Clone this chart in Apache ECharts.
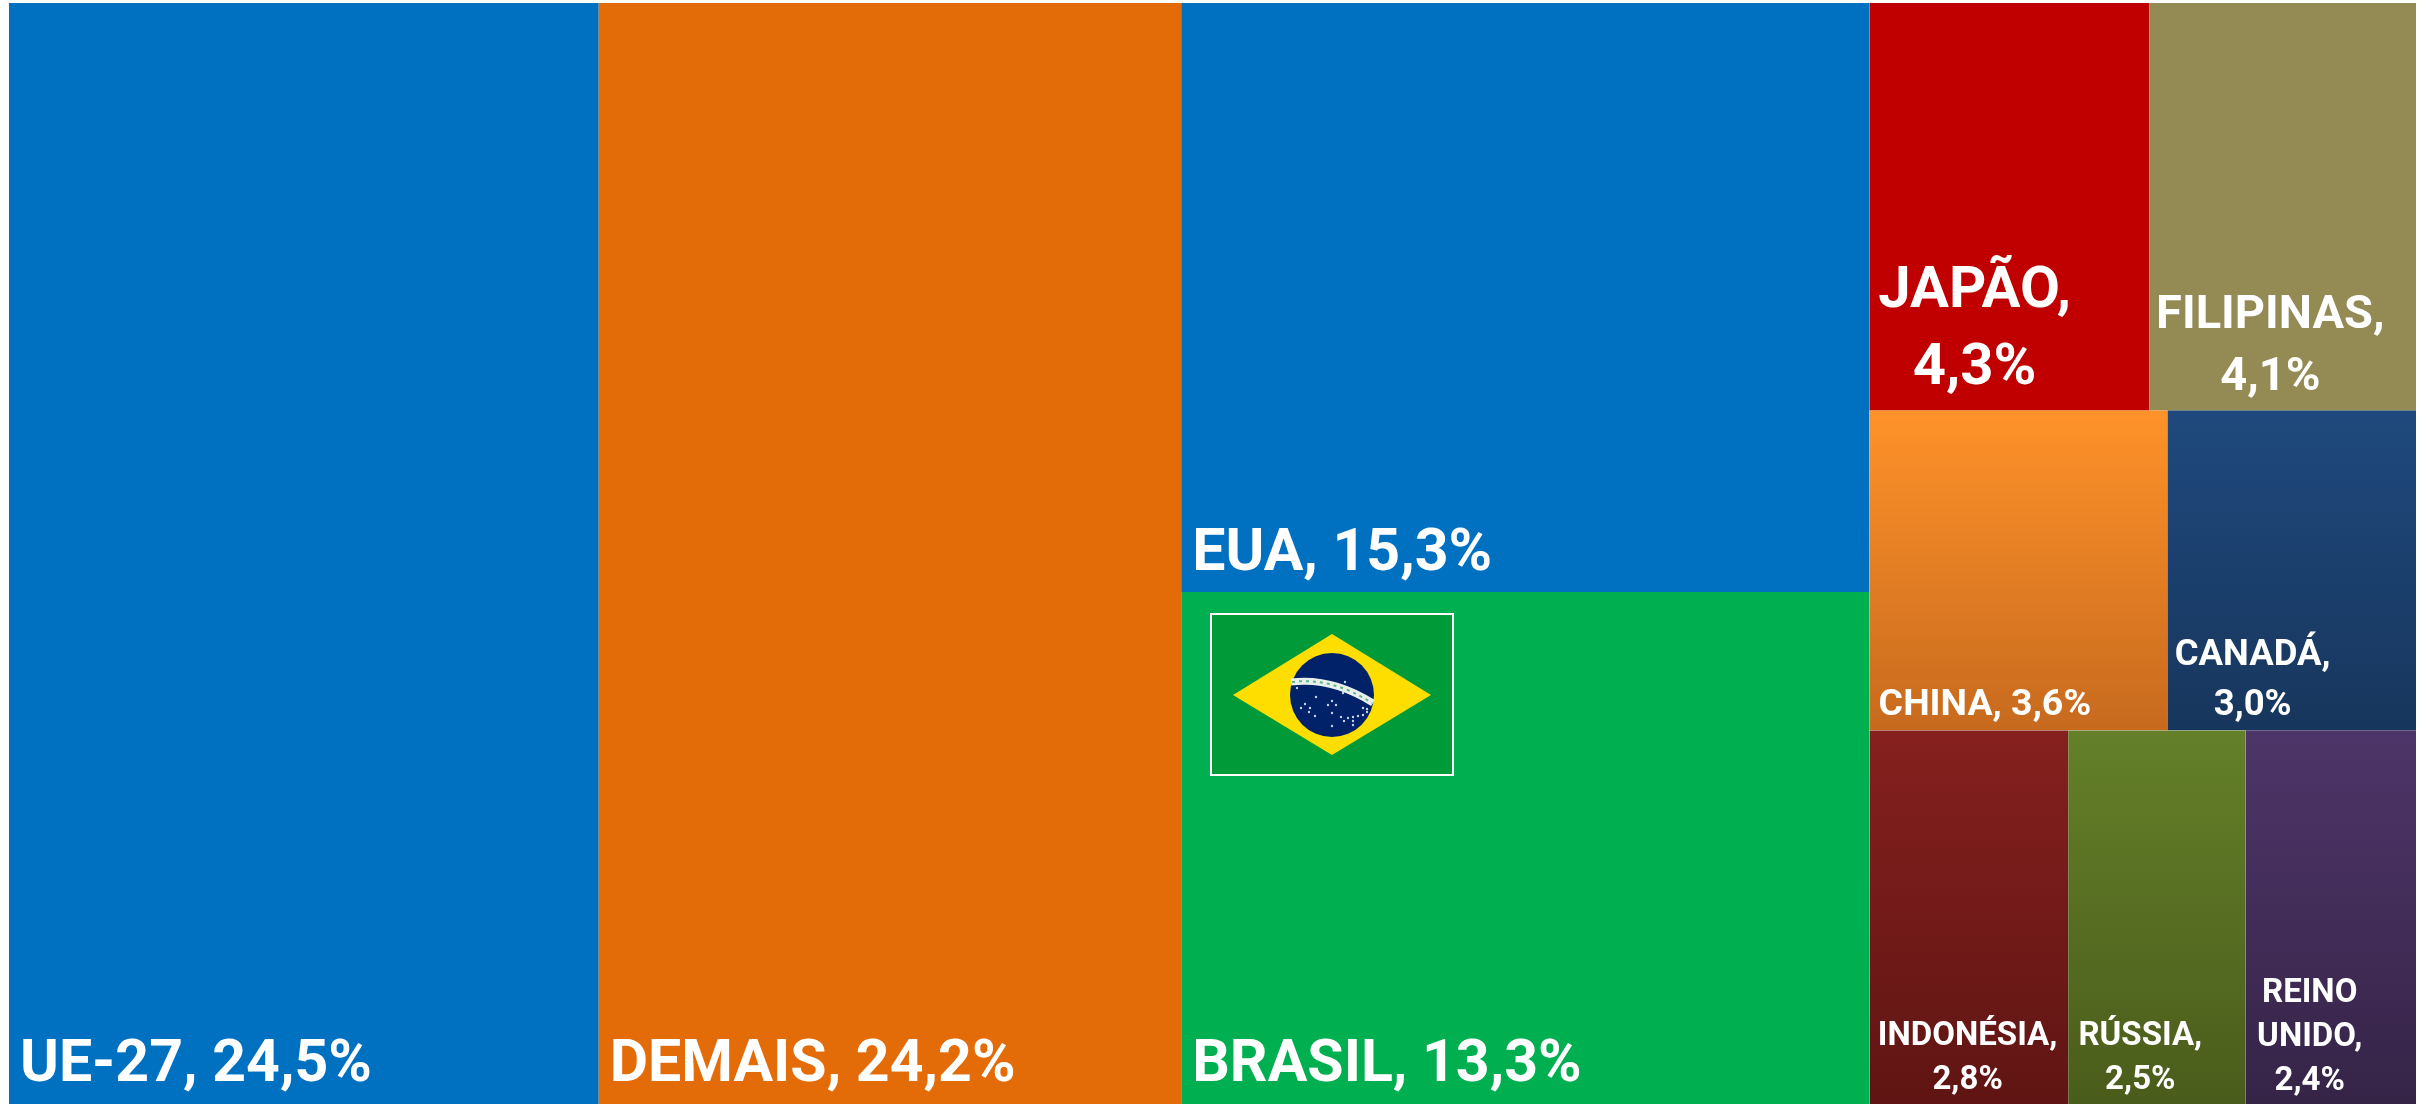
<!DOCTYPE html>
<html>
<head>
<meta charset="utf-8">
<title>Participação</title>
<script src="https://cdn.jsdelivr.net/npm/echarts@6/dist/echarts.min.js"></script>
<style>
  html, body { margin: 0; padding: 0; background: #fff; }
  #chart { width: 2428px; height: 1104px; }
</style>
</head>
<body>
<div id="chart"></div>
<script>
// dados (%)
var paises = ["UE-27", "DEMAIS", "EUA", "BRASIL", "JAPÃO", "FILIPINAS", "CHINA", "CANADÁ", "INDONÉSIA", "RÚSSIA", "REINO UNIDO"];
var participacao = [24.5, 24.2, 15.3, 13.3, 4.3, 4.1, 3.6, 3.0, 2.8, 2.5, 2.4];

// cor de cada celula: uma cor ou [topo, base]
var cores = {
  "UE-27": "#0070C0",
  "DEMAIS": "#E36C09",
  "EUA": "#0070C0",
  "BRASIL": "#00B050",
  "JAPÃO": "#C00000",
  "FILIPINAS": "#948A54",
  "CHINA": ["#FF9229", "#C76A1E"],
  "CANADÁ": ["#1F497D", "#17365D"],
  "INDONÉSIA": ["#85201E", "#5F1513"],
  "RÚSSIA": ["#648029", "#4A5C1B"],
  "REINO UNIDO": ["#4E3569", "#362447"]
};

// rotulos: dx a partir da esquerda da celula, dy a partir da base, fonte, altura de linha, alinhamento, quebra
var rotulos = {
  "UE-27": [6, -76, 59, 66, "left", ", "],
  "DEMAIS": [6, -76, 59, 66, "left", ", "],
  "EUA": [6, -75, 59, 66, "left", ", "],
  "BRASIL": [6, -76, 59, 66, "left", ", "],
  "JAPÃO": [105, -161, 58, 77, "center", ",\n"],
  "FILIPINAS": [121, -130, 47, 62, "center", ",\n"],
  "CHINA": [4, -55, 37.5, 50, "left", ", "],
  "CANADÁ": [85, -105, 36.5, 50, "center", ",\n"],
  "INDONÉSIA": [98, -94, 33, 44, "center", ",\n"],
  "RÚSSIA": [72, -94, 33, 44, "center", ",\n"],
  "REINO UNIDO": [64, -137, 33, 44, "center", ",\n"]
};

function folha(nome) {
  var valor = participacao[paises.indexOf(nome)];
  var r = rotulos[nome];
  var cor = cores[nome];
  if (Array.isArray(cor)) {
    cor = new echarts.graphic.LinearGradient(0, 0, 0, 1, [
      { offset: 0, color: cor[0] },
      { offset: 1, color: cor[1] }
    ]);
  }
  return {
    name: nome,
    value: valor,
    itemStyle: { color: cor },
    label: {
      formatter: nome.replace(" ", "\n") + r[5] + valor.toFixed(1).replace(".", ",") + "%",
      position: [r[0], "100%"],
      offset: [0, r[1]],
      fontSize: r[2],
      lineHeight: r[3],
      align: r[4]
    }
  };
}

// agrupa para a treemap empilhar as celulas como na figura
function grupo(filhos) {
  var soma = 0;
  filhos.forEach(function (f) { soma += f.value; });
  return { name: "", value: soma, children: filhos };
}

var arvore = [
  folha("UE-27"),
  folha("DEMAIS"),
  grupo([folha("EUA"), folha("BRASIL")]),
  grupo([
    grupo([folha("JAPÃO"), folha("FILIPINAS")]),
    grupo([folha("CHINA"), folha("CANADÁ")]),
    grupo([grupo([folha("INDONÉSIA"), folha("RÚSSIA")]), folha("REINO UNIDO")])
  ])
];

// bandeira do Brasil
var estrelas = [
  [1297, 688], [1301, 708], [1305, 704], [1310, 708], [1309, 712], [1315, 716], [1316, 697],
  [1328, 705], [1332, 701], [1336, 705], [1332, 713], [1332, 726], [1341, 717], [1344, 721],
  [1348, 718], [1353, 717], [1353, 721], [1353, 725], [1358, 716], [1363, 715], [1363, 708],
  [1367, 712], [1367, 709], [1345, 682], [1343, 693]
];
var bandeira = [
  { type: "rect", z: 100, shape: { x: 1211, y: 614, width: 242, height: 161 },
    style: { fill: "#009B38", stroke: "#fff", lineWidth: 2 } },
  { type: "polygon", z: 101, shape: { points: [[1233, 695], [1332, 634], [1431, 695], [1332, 755]] },
    style: { fill: "#FEDD00" } },
  { type: "circle", z: 102, shape: { cx: 1332, cy: 695, r: 42 }, style: { fill: "#012169" } },
  { type: "bezierCurve", z: 103, shape: { x1: 1291, y1: 682, x2: 1373, y2: 703, cpx1: 1332, cpy1: 677 },
    style: { stroke: "#E8F0EC", lineWidth: 7, fill: null } },
  { type: "bezierCurve", z: 104, shape: { x1: 1292, y1: 682, x2: 1372, y2: 703, cpx1: 1332, cpy1: 677 },
    style: { stroke: "#5FB487", lineWidth: 2, lineDash: [3, 4], fill: null } }
];
estrelas.forEach(function (e) {
  bandeira.push({ type: "circle", z: 105, shape: { cx: e[0], cy: e[1], r: 1.2 }, style: { fill: "#C9D2E6" } });
});

var chart = echarts.init(document.getElementById("chart"));
chart.setOption({
  animation: false,
  backgroundColor: "#fff",
  graphic: { elements: bandeira },
  series: [
    {
      type: "treemap",
      left: 9,
      top: 3,
      width: 2407,
      height: 1101,
      sort: false,
      squareRatio: 0.001,   // uma celula por faixa, ao longo do lado menor
      roam: false,
      nodeClick: false,
      silent: true,
      breadcrumb: { show: false },
      itemStyle: { borderWidth: 0, gapWidth: 0 },
      label: {
        show: true,
        color: "#fff",
        fontFamily: "Roboto",
        fontWeight: "bold",
        overflow: "none"
      },
      upperLabel: { show: false },
      data: arvore
    }
  ]
});
</script>
</body>
</html>
